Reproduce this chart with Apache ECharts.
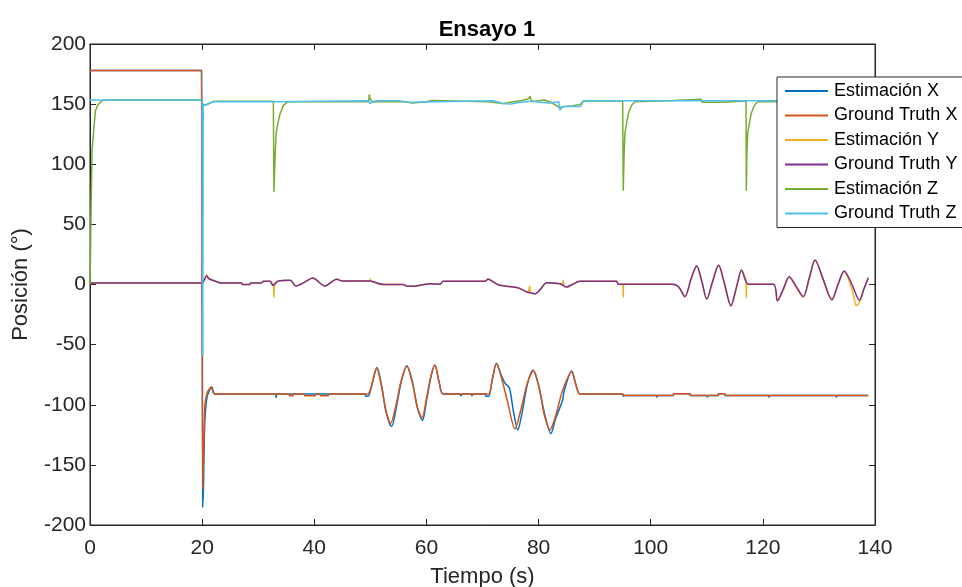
<!DOCTYPE html>
<html>
<head>
<meta charset="utf-8">
<script src="https://cdn.jsdelivr.net/npm/echarts@6/dist/echarts.min.js"></script>
<style>html,body{margin:0;padding:0;background:#fff}#c{width:962px;height:587px}</style>
</head>
<body>
<div id="c"></div>
<script>
// ---- data: [tiempo (s), posición (°)] ----
var xTicks = [0, 20, 40, 60, 80, 100, 120, 140];
var yTicks = [-200, -150, -100, -50, 0, 50, 100, 150, 200];
var seriesNames = ['Estimación X', 'Ground Truth X', 'Estimación Y', 'Ground Truth Y', 'Estimación Z', 'Ground Truth Z'];

var estX = [[0,178],[19.9,178],[20,178],[20.05,-60],[20.1,-185],[20.25,-165],[20.4,-125],[20.6,-105],[20.9,-93],[21.3,-88],[21.7,-85],[22.3,-91],
  [33.1,-91],[33.2,-94],[33.3,-91],[49,-91],[49.2,-93],[49.6,-93],[50.2,-85],[51.2,-69],[52,-84],[52.8,-106],[53.8,-118],[54.6,-103],
  [55.5,-81],[56.5,-67.5],[57.5,-81],[58.4,-103],[59.3,-113],[60,-97],[60.8,-77],[61.5,-67],[62.3,-82],[63,-91],[66,-91],[66.1,-92.5],
  [66.5,-91],[68,-91],[68.1,-92.5],[68.4,-91],[70.5,-91],[70.6,-93],[71.1,-93],[71.7,-80],[72.5,-65.5],[73.3,-75],[74,-82],[74.8,-86],
  [75.5,-105],[76.3,-121],[77,-108],[78,-83],[79,-71],[80,-84],[81,-106],[82.2,-124],[83,-112],[84,-100],[84.3,-96],[84.6,-88],
  [85.9,-72],[86.7,-84],[87.4,-91],[95,-91],[95.1,-93],[95.2,-92.3],[101,-92.3],[101.1,-93.5],[101.3,-92.3],[104,-92.3],[104.1,-90.8],
  [107,-90.8],[107.1,-92.3],[110,-92.3],[110.1,-93.5],[110.3,-92.3],[112,-92.3],[112.1,-90.8],[113.2,-90.8],[113.3,-92.3],[121,-92.3],
  [121.1,-93.5],[121.3,-92.3],[133,-92.3],[133.1,-93.5],[133.3,-92.3],[138.8,-92.3]];

var gtX = [[0,178],[19.9,178],[20,178],[20.1,-170],[20.3,-130],[20.5,-100],[20.9,-90],[21.6,-85.5],[22.2,-91],[35.5,-91],[35.6,-92.5],[36.2,-92.5],
  [36.3,-91],[38.2,-91],[38.3,-92.5],[40.2,-92.5],[40.3,-91],[41,-91],[41.1,-92.5],[42.5,-92.5],[42.6,-91],[49.5,-91],[50.2,-84],
  [51.1,-69.5],[52,-85],[52.8,-105],[53.6,-115.5],[54.5,-102],[55.5,-80],[56.5,-68],[57.5,-82],[58.4,-102],[59.2,-111],[60,-95],
  [60.8,-76],[61.5,-67],[62.3,-82],[63,-91],[71,-91],[71.7,-80],[72.5,-66],[73.4,-78],[74.5,-98],[75.8,-120],[76.8,-105],[78,-82],
  [79.1,-71.5],[80.2,-88],[81,-108],[82,-121],[83,-110],[84.3,-88],[85.9,-72.5],[86.7,-84],[87.4,-91],[95,-91],[95.1,-92.3],
  [104,-92.3],[104.1,-90.8],[107,-90.8],[107.1,-92.3],[112,-92.3],[112.1,-90.8],[113.2,-90.8],[113.3,-92.3],[138.8,-92.3]];

var estY = [[0,0.5],[0.1,1.2],[20,1.2],[20.3,3.5],[20.8,8],[21.2,5],[22.5,2.5],[23.5,1.2],[27,1.2],[27.2,0],[28.5,0],[28.7,1.2],
  [30.5,1.2],[31,2.7],[32.1,2.7],[32.7,-0.7],[32.8,-10.5],[32.9,-0.5],[33.6,2.9],[35.7,3.5],[36.7,-1.2],[38.3,2],[39.7,5.4],[41.9,-1.2],
  [44,4.3],[45,3],[49.9,2.9],[50,4.5],[50.1,2.9],[52.3,-0.1],[55.9,0],[56.5,-1.5],[58.5,-1],[60.6,0.7],[62.4,0.2],[63,2.6],[70.4,2.6],
  [71,4.8],[72,2],[73.1,-0.7],[75.5,-2],[76.5,-3],[77.9,-6],[78.2,-6],[78.4,-1.2],[78.6,-6.8],[79.4,-7.6],[80.5,-3],[81.4,1.5],[83.8,0.7],
  [84.3,0.7],[84.4,3.5],[84.6,-1.5],[85,-2.1],[86,0],[87.4,2.6],[93.9,2.6],[94.2,0.3],[95,0.3],[95.1,-10.4],[95.2,0.3],[104,0.3],
  [105,-2.5],[106.1,-10.5],[107.2,4],[108.2,15],[109.1,2.5],[110,-12],[111,1.5],[112.1,15.5],[113.2,-1],[114.3,-18],[115.3,-3],
  [116.2,11.5],[117,3],[117.05,-11],[117.1,0.5],[117.4,0.3],[121.9,0.3],[122.6,-13.5],[123.7,-4],[124.7,6],[126,-3],[127.2,-10.5],
  [128.3,5],[129.3,20],[130.8,3],[131.5,-6],[132.3,-12],[133.4,0],[134.5,10.5],[135.9,-4],[136.7,-17.6],[137.5,-12],[138,-4],[138.8,5]];

var gtY = [[0,1.2],[20,1.2],[20.3,3],[20.8,7],[21.2,4.8],[22.5,2.5],[23.5,1.2],[27,1.2],[27.2,0],[28.5,0],[28.7,1.2],[30.5,1.2],
  [31,2.7],[32.1,2.7],[32.6,-0.7],[33.6,2.9],[35.7,3.5],[36.7,-1.2],[38.3,2],[39.7,5.4],[41.9,-1.2],[44,4.3],[45,3],[49.9,2.9],
  [52.3,-0.1],[55.9,0],[56.5,-1.5],[58.5,-1],[60.6,0.7],[62.4,0.2],[63,2.6],[70.4,2.6],[71,4.3],[72,2],[73.1,-0.7],[75.5,-2],
  [76.5,-3],[77.9,-6.2],[79.4,-7.6],[80.5,-3],[81.4,1.5],[83.8,0.7],[85,-2.1],[86,0],[87.4,2.6],[93.9,2.6],[94.2,0.3],[104,0.3],
  [105,-2],[106.1,-10],[107.2,5],[108.2,15.6],[109.1,3],[110,-12.3],[111,2],[112.1,16.2],[113.2,0],[114.3,-17.6],[115.3,-2],
  [116.2,12],[117.4,0.3],[121.9,0.3],[122.6,-13.7],[123.7,-3],[124.7,6.5],[126,-2],[127.2,-10],[128.3,6],[129.3,20.4],[130.8,4],
  [132.3,-12.9],[133.4,0],[134.5,11.2],[135.9,0],[137.2,-13],[138,-4],[138.8,5.6]];

var estZ = [[0,0],[0.1,28],[0.15,28],[0.2,67],[0.37,112],[0.65,128],[0.95,144],[1.36,149],[2.1,152.9],[3.5,153.4],[20,153.4],
  [20.1,149],[20.6,149.5],[21.5,151],[22,152.3],[32.7,152.3],[32.8,77],[32.9,77],[33,106],[33.2,126],[33.5,134],[33.9,142],
  [34.5,149],[35.3,152],[49.7,152],[49.8,158],[50,154],[50.4,151.5],[51,152],[56,152],[56.1,151],[57.5,151],[57.6,152],[60,152],
  [60.1,153],[61,153],[61.1,152],[71,152],[71.3,151],[73.7,150.5],[74,152],[77,153],[78.2,154.5],[78.5,156.7],[78.7,152],
  [81,153.5],[82,152],[83.8,147],[84.5,148],[86,148.5],[87.5,150],[88,152.5],[95,152.5],[95.1,78],[95.2,78],[95.25,107],
  [95.4,126],[95.7,134],[96,142],[96.6,149],[97.2,152],[104,153],[104.1,154],[109,154],[109.1,151.5],[113,151.5],[113.1,152.5],
  [117,152.5],[117.05,78],[117.1,78],[117.15,107],[117.3,126],[117.6,134],[117.9,142],[118.5,149],[119.1,152],[138.8,152.5]];

var gtZ = [[0,153.4],[20,153.4],[20.1,-60],[20.2,150],[20.6,149],[21.2,150.5],[22,152],[33,152],[33.1,152.8],[49.7,152.8],
  [49.9,150.5],[50.3,151.5],[51,152.8],[55,152.8],[55.1,151.5],[57,151.5],[57.1,152.8],[72,152.8],[73.5,150.5],[75,150],
  [76.5,151.3],[79,152.5],[80,151.5],[82,151],[83.6,152],[83.8,145],[84.3,148],[87.5,148],[88,152.8],[138.8,152.8]];

var colors = ['#0072BD', '#D95319', '#EDB120', '#7E2F8E', '#77AC30', '#4DBEEE'];
var dataSets = [estX, gtX, estY, gtY, estZ, gtZ];
var smoothOn = [0.3, 0.3, 0.3, 0.3, false, false];

var FONT = '"Liberation Sans", Arial, Helvetica, sans-serif';
var AX = '#262626';

var chart = echarts.init(document.getElementById('c'), null, {renderer: 'canvas'});

var series = seriesNames.map(function (n, i) {
  return {
    name: n, type: 'line', data: dataSets[i], showSymbol: false, symbol: 'none',
    smooth: smoothOn[i],
    lineStyle: {color: colors[i], width: 1.5}, itemStyle: {color: colors[i]},
    animation: false, z: 2 + i
  };
});

var axisCommonX = {
  type: 'value', min: xTicks[0], max: xTicks[xTicks.length - 1], interval: 20,
  splitLine: {show: false},
  axisLine: {show: true, onZero: false, lineStyle: {color: AX, width: 1}},
  axisTick: {show: true, inside: true, length: 6, lineStyle: {color: AX}}
};
var axisCommonY = {
  type: 'value', min: yTicks[0], max: yTicks[yTicks.length - 1], interval: 50,
  splitLine: {show: false},
  axisLine: {show: true, onZero: false, lineStyle: {color: AX, width: 1}},
  axisTick: {show: true, inside: true, length: 6, lineStyle: {color: AX}}
};

chart.setOption({
  animation: false,
  backgroundColor: '#fff',
  title: {
    text: 'Ensayo 1', left: 482, top: 14, textAlign: 'center',
    textStyle: {fontFamily: FONT, fontSize: 22, fontWeight: 'bold', color: '#000'}
  },
  grid: {left: 90, right: 87, top: 44, bottom: 62, show: true, borderColor: AX, borderWidth: 1,
    backgroundColor: '#fff', containLabel: false, outerBoundsMode: 'none'},
  legend: {
    orient: 'vertical', left: 777, top: 77, width: 183,
    data: seriesNames,
    icon: 'rect', itemWidth: 43, itemHeight: 2, itemGap: 6.5,
    padding: [5, 6, 5, 8],
    backgroundColor: '#fff', borderColor: AX, borderWidth: 1, borderRadius: 0,
    textStyle: {fontFamily: FONT, fontSize: 18, color: '#000', padding: [0, 0, 0, 1]},
    selectedMode: false, z: 20
  },
  xAxis: [
    Object.assign({}, axisCommonX, {
      position: 'bottom',
      name: 'Tiempo (s)', nameLocation: 'middle', nameGap: 41,
      nameTextStyle: {fontFamily: FONT, fontSize: 22, color: AX},
      axisLabel: {fontFamily: FONT, fontSize: 21, color: AX, margin: 13,
        formatter: function (v) { return xTicks.indexOf(v) >= 0 ? String(v) : ''; }}
    }),
    Object.assign({}, axisCommonX, {position: 'top', axisLabel: {show: false}})
  ],
  yAxis: [
    Object.assign({}, axisCommonY, {
      position: 'left',
      name: 'Posición (°)', nameLocation: 'middle', nameGap: 58,
      nameTextStyle: {fontFamily: FONT, fontSize: 22, color: AX},
      axisLabel: {fontFamily: FONT, fontSize: 21, color: AX, margin: 4,
        formatter: function (v) { return yTicks.indexOf(v) >= 0 ? String(v) : ''; }}
    }),
    Object.assign({}, axisCommonY, {position: 'right', axisLabel: {show: false}})
  ],
  series: series
});
</script>
</body>
</html>
